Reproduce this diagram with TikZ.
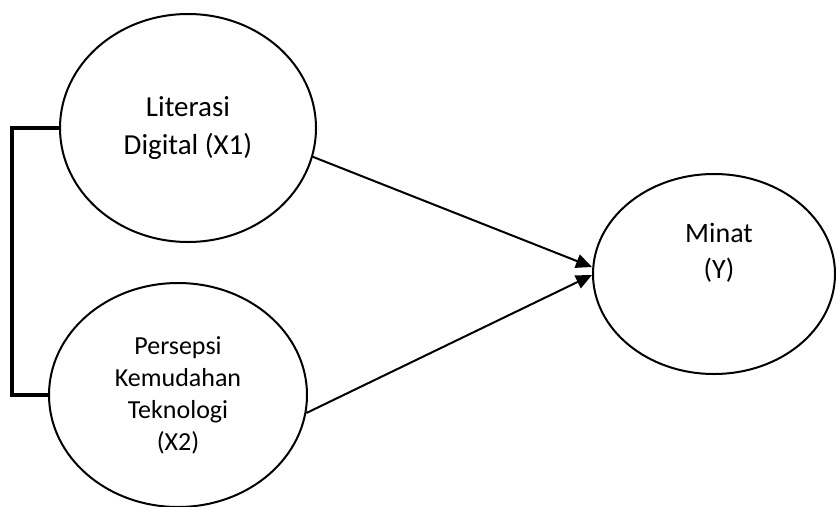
\documentclass[tikz,border=0pt]{standalone}
\usepackage{fontspec}
\setmainfont{Carlito}
\usetikzlibrary{arrows.meta,shapes.geometric}

\begin{document}
\begin{tikzpicture}[x=1pt,y=-1pt,
  var/.style={draw,ellipse,line width=2pt,inner sep=0pt,align=center},
  effect/.style={line width=2pt,-{Triangle[length=16pt,width=14pt]}},
  corr/.style={line width=3.6pt}]
  \useasboundingbox (0,0) rectangle (837,506);

  \node[var,minimum width=256pt,minimum height=228pt,font=\fontsize{29}{38}\selectfont] (x1) at (188,128) {Literasi\\Digital (X1)};
  \node[var,minimum width=258pt,minimum height=224pt,font=\fontsize{26}{32}\selectfont] (x2) at (178,395) {Persepsi\\Kemudahan\\Teknologi\\(X2)};
  \node[var,minimum width=242pt,minimum height=200pt] (y) at (714,274) {};
  \node[align=center,font=\fontsize{28}{36}\selectfont] (ytext) at ([xshift=5pt,yshift=21pt]y.center) {Minat\\(Y)};

  \coordinate (yin1) at ([yshift=7pt]y.west);
  \coordinate (yin2) at ([yshift=-1pt]y.west);

  \draw[effect] (x1.-13) -- (yin1);
  \draw[effect] (x2.-8) -- (yin2);
  \draw[corr] (x1.west) -- ++(-47,0) |- (x2.west);
\end{tikzpicture}
\end{document}
